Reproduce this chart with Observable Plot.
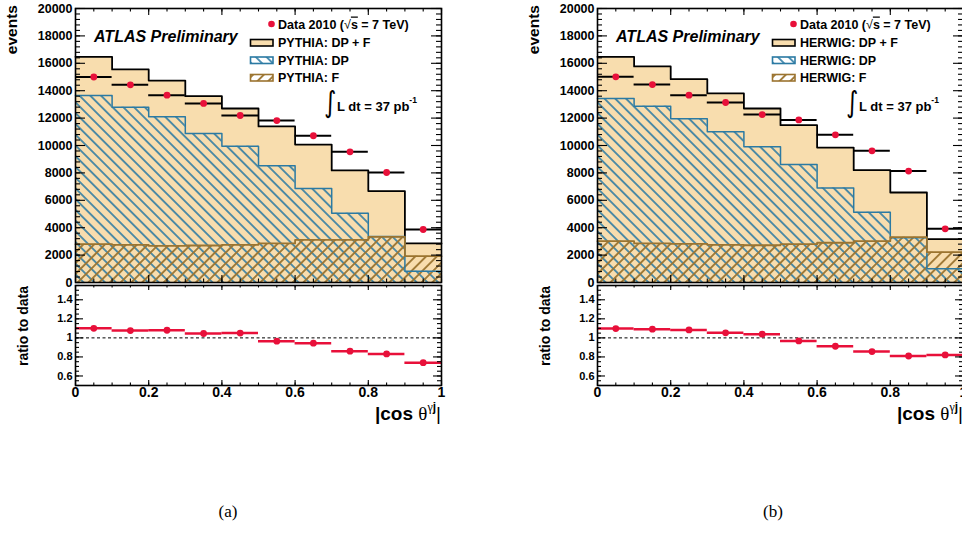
<!DOCTYPE html>
<html>
<head>
<meta charset="utf-8">
<script src="https://cdn.jsdelivr.net/npm/d3@7"></script>
<script src="https://cdn.jsdelivr.net/npm/@observablehq/plot@0.6"></script>
<style>
html, body { margin: 0; padding: 0; background: #fff; overflow: hidden; }
#root { position: relative; width: 962px; height: 533px; overflow: hidden; background: #fff; }
#root > svg.plotsvg { position: absolute; }
#overlay { position: absolute; left: 0; top: 0; pointer-events: none; }
</style>
</head>
<body>
<div id="root">
<svg id="overlay" width="962" height="533" xmlns="http://www.w3.org/2000/svg">
  <defs>
    <pattern id="hatchDP" patternUnits="userSpaceOnUse" width="7.6" height="7.6" patternTransform="rotate(-45)">
      <line x1="3.8" y1="-1" x2="3.8" y2="8.6" stroke="#2b7aa3" stroke-width="1.6"/>
    </pattern>
    <pattern id="hatchF" patternUnits="userSpaceOnUse" width="7.6" height="7.6" patternTransform="rotate(45)">
      <line x1="3.8" y1="-1" x2="3.8" y2="8.6" stroke="#9b7430" stroke-width="1.8"/>
    </pattern>
  </defs>
</svg>
</div>
<script>
// ---------------- data ----------------
const binEdges = [0, 0.1, 0.2, 0.3, 0.4, 0.5, 0.6, 0.7, 0.8, 0.9, 1.0];

// (a) PYTHIA
const pythiaData  = [15000, 14430, 13670, 13070, 12190, 11820, 10710, 9540, 8030, 3870];
const pythiaTotal = [16470, 15550, 14740, 13600, 12700, 11390, 10070, 8180, 6670, 2850];
const pythiaDP    = [13650, 12800, 12090, 10880, 9950, 8520, 6860, 5060, 3350, 830];
const pythiaF     = [2800, 2750, 2680, 2700, 2750, 2850, 3110, 3110, 3330, 1920];
const pythiaRatio = [1.100, 1.077, 1.080, 1.046, 1.050, 0.965, 0.944, 0.860, 0.832, 0.740];

// (b) HERWIG
const herwigData  = [15010, 14450, 13670, 13140, 12260, 11870, 10780, 9610, 8130, 3920];
const herwigTotal = [16470, 15770, 14840, 13800, 12700, 11480, 9850, 8200, 6570, 3160];
const herwigDP    = [13430, 12870, 11950, 11000, 9900, 8610, 6890, 5130, 3260, 1000];
const herwigF     = [3020, 2850, 2820, 2750, 2720, 2800, 2900, 3020, 3310, 2210];
const herwigRatio = [1.098, 1.091, 1.084, 1.053, 1.039, 0.968, 0.912, 0.856, 0.810, 0.821];

// ticks / labels
const xMajorTicks = [0, 0.2, 0.4, 0.6, 0.8, 1];
const yMainTicks = [0, 2000, 4000, 6000, 8000, 10000, 12000, 14000, 16000, 18000, 20000];
const yRatioTicks = [0.6, 0.8, 1, 1.2, 1.4];

const panelA = {gen: "PYTHIA", data: pythiaData, total: pythiaTotal, dp: pythiaDP, f: pythiaF, ratio: pythiaRatio, caption: "(a)"};
const panelB = {gen: "HERWIG", data: herwigData, total: herwigTotal, dp: herwigDP, f: herwigF, ratio: herwigRatio, caption: "(b)"};

// ---------------- styling ----------------
const RED = "#e8103a", WHEAT = "#f8ddae", BLUE = "#2b7aa3", BROWN = "#9b7430";
const FONT = "'Liberation Sans', Arial, Helvetica, sans-serif";

const xMinorTicks = d3.range(0, 21).map(i => +(i * 0.05).toFixed(2));
const yMainMinor = d3.range(0, 51).map(i => i * 400);
const yRatioMinor = d3.range(10, 32).map(i => +(i * 0.05).toFixed(2));

function bins(vals) {
  return vals.map((v, i) => ({lo: binEdges[i], hi: binEdges[i + 1], mid: (binEdges[i] + binEdges[i + 1]) / 2, v}));
}
function steps(vals) {
  return binEdges.map((e, i) => ({x: e, y: vals[Math.min(i, vals.length - 1)]}));
}

function frameTicks(yMaj, yMin, innerW, innerH, Lx, lx, Ly, ly) {
  const o = {stroke: "black", strokeWidth: 1.1};
  return [
    Plot.ruleX(xMajorTicks, {x: d => d, insetTop: innerH - Lx, ...o}),
    Plot.ruleX(xMajorTicks, {x: d => d, insetBottom: innerH - Lx, ...o}),
    Plot.ruleX(xMinorTicks, {x: d => d, insetTop: innerH - lx, ...o}),
    Plot.ruleX(xMinorTicks, {x: d => d, insetBottom: innerH - lx, ...o}),
    Plot.ruleY(yMaj, {y: d => d, insetRight: innerW - Ly, ...o}),
    Plot.ruleY(yMaj, {y: d => d, insetLeft: innerW - Ly, ...o}),
    Plot.ruleY(yMin, {y: d => d, insetRight: innerW - ly, ...o}),
    Plot.ruleY(yMin, {y: d => d, insetLeft: innerW - ly, ...o})
  ];
}

const W = 460, mL = 75, mR = 19;
const innerW = W - mL - mR;

function mainPlot(p) {
  const H = 290, mT = 8, mB = 8;
  const innerH = H - mT - mB;
  const b = bins(p.data);
  return Plot.plot({
    width: W, height: H, marginLeft: mL, marginRight: mR, marginTop: mT, marginBottom: mB,
    x: {domain: [0, 1], axis: null, label: null},
    y: {domain: [0, 20000], axis: null, label: null},
    style: {fontFamily: FONT, fontWeight: "bold", background: "none", overflow: "visible"},
    marks: [
      Plot.areaY(steps(p.total), {x: "x", y: "y", curve: "step-after", fill: WHEAT}),
      Plot.areaY(steps(p.dp), {x: "x", y: "y", curve: "step-after", fill: "url(#hatchDP)"}),
      Plot.areaY(steps(p.f), {x: "x", y: "y", curve: "step-after", fill: "url(#hatchF)"}),
      Plot.line(steps(p.total), {x: "x", y: "y", curve: "step-after", stroke: "black", strokeWidth: 1.8}),
      Plot.line(steps(p.dp), {x: "x", y: "y", curve: "step-after", stroke: BLUE, strokeWidth: 1.5}),
      Plot.line(steps(p.f), {x: "x", y: "y", curve: "step-after", stroke: BROWN, strokeWidth: 1.8}),
      Plot.ruleY(b, {x1: "lo", x2: "hi", y: "v", stroke: "black", strokeWidth: 2}),
      Plot.dot(b, {x: "mid", y: "v", r: 3.4, fill: RED, stroke: null}),
      ...frameTicks(yMainTicks, yMainMinor, innerW, innerH, 7, 3.5, 10, 5),
      Plot.axisY({ticks: yMainTicks, label: null, tickSize: 0, tickPadding: 3, fontSize: 12.5, fontWeight: "bold", tickFormat: d => String(d)}),
      Plot.frame({stroke: "black", strokeWidth: 1.6})
    ]
  });
}

function ratioPlot(p) {
  const H = 130, mT = 5, mB = 25;
  const innerH = H - mT - mB;
  const b = bins(p.ratio);
  return Plot.plot({
    width: W, height: H, marginLeft: mL, marginRight: mR, marginTop: mT, marginBottom: mB,
    x: {domain: [0, 1], axis: null, label: null},
    y: {domain: [0.5, 1.55], axis: null, label: null},
    style: {fontFamily: FONT, fontWeight: "bold", background: "none", overflow: "visible"},
    marks: [
      Plot.ruleY([1], {stroke: "black", strokeWidth: 1, strokeDasharray: "3,2.5"}),
      Plot.ruleY(b, {x1: "lo", x2: "hi", y: "v", stroke: RED, strokeWidth: 2.5}),
      Plot.dot(b, {x: "mid", y: "v", r: 3.4, fill: RED, stroke: null}),
      ...frameTicks(yRatioTicks, yRatioMinor, innerW, innerH, 5, 2.5, 8, 4),
      Plot.axisY({ticks: yRatioTicks, label: null, tickSize: 0, tickPadding: 3, fontSize: 11, fontWeight: "bold", tickFormat: d3.format("~g")}),
      Plot.axisX({ticks: xMajorTicks, label: null, tickSize: 0, tickPadding: 2, fontSize: 14, fontWeight: "bold", tickFormat: d3.format("~g")}),
      Plot.frame({stroke: "black", strokeWidth: 1.6})
    ]
  });
}

const root = document.getElementById("root");
const overlayEl = document.getElementById("overlay");

function place(svg, left, top) {
  svg.classList.add("plotsvg");
  svg.style.left = left + "px";
  svg.style.top = top + "px";
  root.insertBefore(svg, overlayEl);
}

const overlay = d3.select(overlayEl);

function annotate(p, ox, capX) {
  const g = overlay.append("g").attr("transform", `translate(${ox},0)`)
    .attr("font-family", FONT).attr("font-weight", "bold").attr("fill", "black");
  // ATLAS label
  g.append("text").attr("x", 94).attr("y", 42).attr("font-size", 16).attr("font-style", "italic").text("ATLAS Preliminary");
  // legend
  g.append("circle").attr("cx", 271.5).attr("cy", 24).attr("r", 3.3).attr("fill", RED);
  const t0 = g.append("text").attr("x", 278).attr("y", 28.5).attr("font-size", 12.5);
  t0.append("tspan").text("Data 2010 (");
  t0.append("tspan").attr("font-weight", "normal").text("\u221A");
  t0.append("tspan").style("text-decoration", "overline").text("s");
  t0.append("tspan").text(" = 7 TeV)");
  const rows = [
    {label: p.gen + ": DP + F", fill: WHEAT, stroke: "black", y: 39.5},
    {label: p.gen + ": DP", fill: "url(#hatchDP)", stroke: BLUE, y: 57},
    {label: p.gen + ": F", fill: "url(#hatchF)", stroke: BROWN, y: 74.5}
  ];
  rows.forEach(r => {
    g.append("rect").attr("x", 250.5).attr("y", r.y).attr("width", 22.5).attr("height", 6.5)
      .attr("fill", r.fill).attr("stroke", r.stroke).attr("stroke-width", 1.6);
    g.append("text").attr("x", 278).attr("y", r.y + 7.5).attr("font-size", 12.5).text(r.label);
  });
  // luminosity
  g.append("text").attr("transform", "translate(324,112) scale(0.9,1.12)").attr("font-size", 26).attr("font-weight", "normal")
    .attr("font-family", "'DejaVu Sans', sans-serif").text("\u222B");
  const lt = g.append("text").attr("x", 337).attr("y", 111).attr("font-size", 13);
  lt.append("tspan").text("L dt = 37 pb");
  lt.append("tspan").attr("dy", -8).attr("font-size", 8.5).text("-1");
  // axis titles
  g.append("text").attr("transform", "translate(17,5) rotate(-90)").attr("text-anchor", "end")
    .attr("font-size", 15.5).text("events");
  g.append("text").attr("transform", "translate(28,326) rotate(-90)").attr("text-anchor", "middle")
    .attr("font-size", 14).text("ratio to data");
  const xl = g.append("text").attr("x", 441).attr("y", 420).attr("text-anchor", "end").attr("font-size", 19);
  xl.append("tspan").text("|cos ");
  xl.append("tspan").attr("font-weight", "normal").attr("font-family", "'Liberation Serif', serif").text("\u03B8");
  xl.append("tspan").attr("dy", -9).attr("font-size", 12).attr("font-weight", "normal").attr("font-family", "'Liberation Serif', serif").text("\u03B3");
  xl.append("tspan").attr("font-size", 12).text("j");
  xl.append("tspan").attr("dy", 9).attr("font-weight", "normal").text("|");
  // caption
  overlay.append("text").attr("x", capX).attr("y", 517).attr("text-anchor", "middle")
    .attr("font-family", "'Liberation Serif', 'Times New Roman', serif").attr("font-size", 17).text(p.caption);
}

[[panelA, 0, 228], [panelB, 522, 773]].forEach(([p, ox, capX]) => {
  place(mainPlot(p), ox, 0);
  place(ratioPlot(p), ox, 280);
  annotate(p, ox, capX);
});
</script>
</body>
</html>
